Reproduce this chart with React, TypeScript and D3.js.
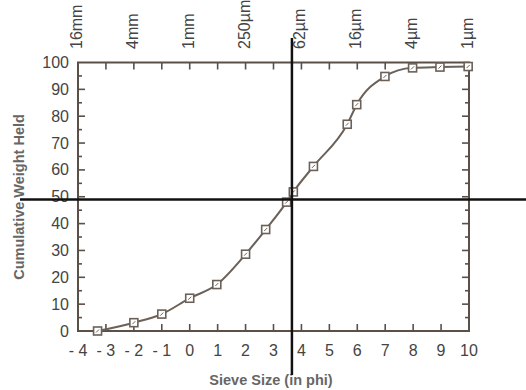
import * as d3 from "d3";

// Sieve analysis: cumulative weight held vs grain size (phi)
const phiValues = [-3.3, -2.0, -1.0, 0.0, 0.97, 2.0, 2.72, 3.47, 3.71, 4.43, 5.64, 5.98, 6.99, 7.98, 8.96, 9.97];
const cumWeight = [0, 3.1, 6.3, 12.2, 17.3, 28.6, 37.8, 48, 51.8, 61.3, 77, 84.3, 94.8, 98, 98.3, 98.5];

const xTicks = [-4, -3, -2, -1, 0, 1, 2, 3, 4, 5, 6, 7, 8, 9, 10];
const xTickLabels = ["- 4", "- 3", "- 2", "- 1", "0", "1", "2", "3", "4", "5", "6", "7", "8", "9", "10"];
const yTicks = [0, 10, 20, 30, 40, 50, 60, 70, 80, 90, 100];
const sizePhi = [-4, -2, 0, 2, 4, 6, 8, 10];
const sizeLabels = ["16mm", "4mm", "1mm", "250µm", "62µm", "16µm", "4µm", "1µm"];

// median crosshair
const medianPhi = 3.66;
const medianPct = 49;

const W = 526;
const H = 390;
const axisColor = "#5a5048";
const lineColor = "#6b6158";
const font = "'Liberation Sans', Arial, sans-serif";

export default function App() {
  const x = d3.scaleLinear().domain([-4, 10]).range([78, 469]);
  const y = d3.scaleLinear().domain([0, 100]).range([331, 62.5]);

  const pts = phiValues.map((p, i) => [p, cumWeight[i]] as [number, number]);
  const line = d3
    .line<[number, number]>()
    .x((d) => x(d[0]))
    .y((d) => y(d[1]))
    .curve(d3.curveMonotoneX);

  const innerX = xTicks.filter((t) => t > -4 && t < 10);
  const minorY = d3.range(5, 100, 10);
  const majorY = yTicks.filter((t) => t > 0 && t < 100);
  const [x0, x1] = x.range();
  const [y0, y1] = y.range();

  return (
    <svg
      width={W}
      height={H}
      style={{ position: "absolute", left: 0, top: 0, background: "#fff" }}
      fontFamily={font}
    >
      {/* frame */}
      <rect x={x0} y={y1} width={x1 - x0} height={y0 - y1} fill="none" stroke={axisColor} strokeWidth={2} />

      {/* inner ticks bottom/top */}
      {innerX.map((t) => (
        <g key={"xt" + t} stroke={axisColor} strokeWidth={1.6}>
          <line x1={x(t)} x2={x(t)} y1={y0} y2={y0 - 7} />
          <line x1={x(t)} x2={x(t)} y1={y1} y2={y1 + 7} />
        </g>
      ))}

      {/* inner ticks left/right */}
      {majorY.map((t) => (
        <g key={"yt" + t} stroke={axisColor} strokeWidth={1.6}>
          <line x1={x0} x2={x0 + 7} y1={y(t)} y2={y(t)} />
          <line x1={x1} x2={x1 - 7} y1={y(t)} y2={y(t)} />
        </g>
      ))}
      {minorY.map((t) => (
        <g key={"ym" + t} stroke={axisColor} strokeWidth={1.6}>
          <line x1={x0} x2={x0 + 4} y1={y(t)} y2={y(t)} />
          <line x1={x1} x2={x1 - 4} y1={y(t)} y2={y(t)} />
        </g>
      ))}

      {/* y tick labels */}
      {yTicks.map((t) => (
        <text key={"yl" + t} x={69} y={y(t) + 5.5} textAnchor="end" fontSize={16} fill="#444">
          {t}
        </text>
      ))}

      {/* x tick labels */}
      {xTicks.map((t, i) => (
        <text key={"xl" + t} x={x(t)} y={356} textAnchor="middle" fontSize={16} fill="#444">
          {xTickLabels[i]}
        </text>
      ))}

      {/* top grain size labels */}
      {sizePhi.map((p, i) => (
        <text
          key={"sz" + p}
          transform={`translate(${x(p) + 4},49) rotate(-90)`}
          textAnchor="start"
          fontSize={16}
          fill="#444"
        >
          {sizeLabels[i]}
        </text>
      ))}

      {/* axis titles */}
      <text
        transform={`translate(24,197) rotate(-90)`}
        textAnchor="middle"
        fontSize={14.5}
        fontWeight="bold"
        fill="#666"
      >
        Cumulative Weight Held
      </text>
      <text x={271} y={385} textAnchor="middle" fontSize={14.5} fontWeight="bold" fill="#666">
        Sieve Size (in phi)
      </text>

      {/* curve */}
      <path d={line(pts) ?? ""} fill="none" stroke={lineColor} strokeWidth={2} />
      {pts.map((d, i) => (
        <g key={"pt" + i}>
          <rect
            x={x(d[0]) - 4}
            y={y(d[1]) - 4}
            width={8}
            height={8}
            fill="#fff"
            stroke={lineColor}
            strokeWidth={1.6}
          />
          <line x1={x(d[0]) - 1.5} x2={x(d[0]) + 1.5} y1={y(d[1]) + 1.5} y2={y(d[1]) - 1.5} stroke={lineColor} strokeWidth={1} />
        </g>
      ))}

      {/* median crosshair */}
      <line x1={20} x2={W} y1={y(medianPct)} y2={y(medianPct)} stroke="#111" strokeWidth={2.5} />
      <line x1={x(medianPhi)} x2={x(medianPhi)} y1={38} y2={375} stroke="#111" strokeWidth={2.5} />
    </svg>
  );
}
